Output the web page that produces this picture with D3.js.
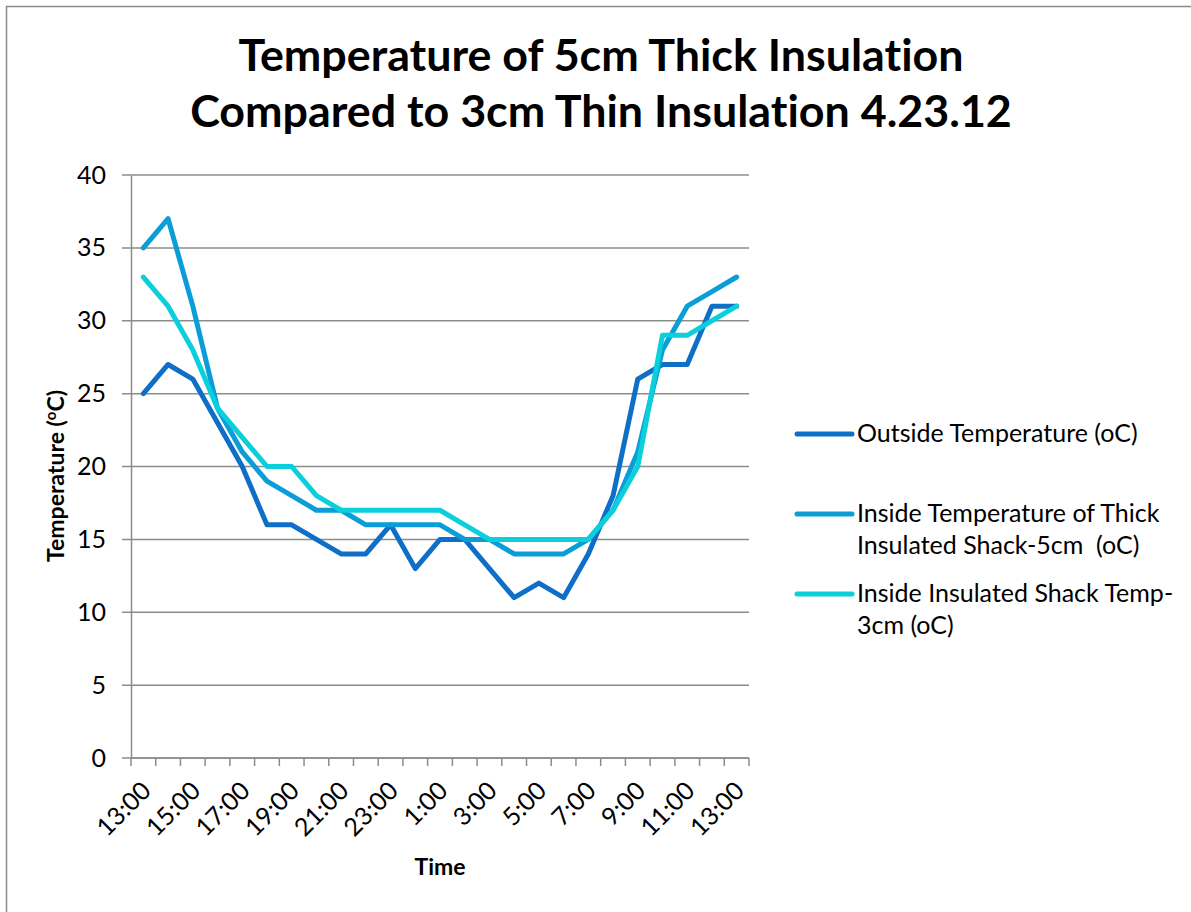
<!DOCTYPE html>
<html>
<head>
<meta charset="utf-8">
<script src="https://cdn.jsdelivr.net/npm/d3@7"></script>
<style>
  body { margin: 0; background: #fff; }
  text { font-family: Lato, "Open Sans", sans-serif; fill: #000; font-variant-ligatures: none; white-space: pre; }
</style>
</head>
<body>
<div id="chart"></div>
<script>
// hourly readings, 13:00 one day to 13:00 the next
const times = ["13:00", "14:00", "15:00", "16:00", "17:00", "18:00", "19:00", "20:00", "21:00",
    "22:00", "23:00", "0:00", "1:00", "2:00", "3:00", "4:00", "5:00", "6:00", "7:00",
    "8:00", "9:00", "10:00", "11:00", "12:00", "13:00"];
const outside = [25, 27, 26, 23, 20, 16, 16, 15, 14, 14, 16, 13, 15, 15, 13, 11, 12, 11, 14, 18, 26, 27, 27, 31, 31];
const thick5cm = [35, 37, 31, 24, 21, 19, 18, 17, 17, 16, 16, 16, 16, 15, 15, 14, 14, 14, 15, 17, 21, 28, 31, 32, 33];
const thin3cm = [33, 31, 28, 24, 22, 20, 20, 18, 17, 17, 17, 17, 17, 16, 15, 15, 15, 15, 15, 17, 20, 29, 29, 30, 31];
const yTicks = [0, 5, 10, 15, 20, 25, 30, 35, 40];

const seriesList = [
    { name: ["Outside Temperature (oC)"], values: outside, color: "#0f6fc6" },
    { name: ["Inside Temperature of Thick", "Insulated Shack-5cm  (oC)"], values: thick5cm, color: "#0a9dd8" },
    { name: ["Inside Insulated Shack Temp-", "3cm (oC)"], values: thin3cm, color: "#0bcfdb" }
];

const width = 1191;
const height = 912;
const plot = { left: 131, right: 749, top: 175, bottom: 758 };

const svg = d3.select("#chart")
    .append("svg")
    .attr("width", width)
    .attr("height", height);

// chart area border (only top/left visible in the frame)
svg.append("rect")
    .attr("x", 6.5)
    .attr("y", 6.5)
    .attr("width", width + 20)
    .attr("height", height + 20)
    .attr("fill", "none")
    .attr("stroke", "#8a8a8a")
    .attr("stroke-width", 1.5);

const x = d3.scaleBand()
    .domain(d3.range(times.length))
    .range([plot.left, plot.right])
    .padding(0);

const y = d3.scaleLinear()
    .domain([0, 40])
    .range([plot.bottom, plot.top]);

// gridlines
svg.append("g")
    .selectAll("line")
    .data(yTicks)
    .enter().append("line")
    .attr("x1", plot.left - 9)
    .attr("x2", plot.right)
    .attr("y1", d => y(d))
    .attr("y2", d => y(d))
    .attr("stroke", "#8c8c8c")
    .attr("stroke-width", 1.5);

// y axis
const yAxis = svg.append("g")
    .attr("transform", `translate(${plot.left},0)`)
    .call(d3.axisLeft(y).tickValues(yTicks).tickSize(0).tickPadding(25));
yAxis.select(".domain").attr("stroke", "#8c8c8c").attr("stroke-width", 1.5);
yAxis.selectAll("text")
    .style("font-family", "Lato, sans-serif")
    .style("font-size", "25px");

// x axis: ticks between categories, labels every 2 hours
const xAxis = svg.append("g")
    .attr("transform", `translate(0,${plot.bottom})`);
xAxis.append("line")
    .attr("x1", plot.left)
    .attr("x2", plot.right)
    .attr("stroke", "#8c8c8c")
    .attr("stroke-width", 1.5);
xAxis.selectAll(".tick-mark")
    .data(d3.range(times.length + 1))
    .enter().append("line")
    .attr("class", "tick-mark")
    .attr("x1", i => i < times.length ? x(i) : plot.right)
    .attr("x2", i => i < times.length ? x(i) : plot.right)
    .attr("y1", 0)
    .attr("y2", 8)
    .attr("stroke", "#8c8c8c")
    .attr("stroke-width", 1.5);
xAxis.selectAll(".tick-label")
    .data(d3.range(0, times.length, 2))
    .enter().append("text")
    .attr("class", "tick-label")
    .attr("transform", i => `translate(${x(i) + x.bandwidth() / 2 + 3},${28}) rotate(-45)`)
    .attr("text-anchor", "end")
    .attr("dy", "0.35em")
    .style("font-size", "25px")
    .text(i => times[i]);

// axis titles
svg.append("text")
    .attr("x", 440)
    .attr("y", 875)
    .attr("text-anchor", "middle")
    .style("font-weight", "bold")
    .style("font-size", "23px")
    .text("Time");

const yTitle = svg.append("text")
    .attr("transform", "translate(64,476) rotate(-90)")
    .attr("text-anchor", "middle")
    .style("font-weight", "bold")
    .style("font-size", "23px");
yTitle.append("tspan").text("Temperature (");
yTitle.append("tspan").attr("dy", "-8").style("font-size", "15px").text("o");
yTitle.append("tspan").attr("dy", "8").text("C)");

// title
const title = svg.append("text")
    .attr("x", 601)
    .attr("text-anchor", "middle")
    .style("font-weight", "bold")
    .style("font-size", "44.8px");
title.append("tspan").attr("x", 601).attr("y", 71).text("Temperature of 5cm Thick Insulation");
title.append("tspan").attr("x", 601).attr("y", 127).text("Compared to 3cm Thin Insulation 4.23.12");

// lines
const line = d3.line()
    .x((d, i) => x(i) + x.bandwidth() / 2)
    .y(d => y(d));

svg.append("g")
    .selectAll("path")
    .data(seriesList)
    .enter().append("path")
    .attr("d", d => line(d.values))
    .attr("fill", "none")
    .attr("stroke", d => d.color)
    .attr("stroke-width", 5)
    .attr("stroke-linejoin", "round")
    .attr("stroke-linecap", "round");

// legend
const legendY = [434, 514, 594];
const legend = svg.append("g")
    .selectAll("g")
    .data(seriesList)
    .enter().append("g")
    .attr("transform", (d, i) => `translate(797,${legendY[i]})`);
legend.append("line")
    .attr("x1", 0)
    .attr("x2", 55)
    .attr("stroke", d => d.color)
    .attr("stroke-width", 5)
    .attr("stroke-linecap", "round");
legend.append("text")
    .attr("x", 60)
    .attr("y", 8)
    .style("font-size", "25px")
    .selectAll("tspan")
    .data(d => d.name)
    .enter().append("tspan")
    .attr("x", 60)
    .attr("dy", (d, i) => i === 0 ? 0 : 32)
    .text(d => d);
</script>
</body>
</html>
